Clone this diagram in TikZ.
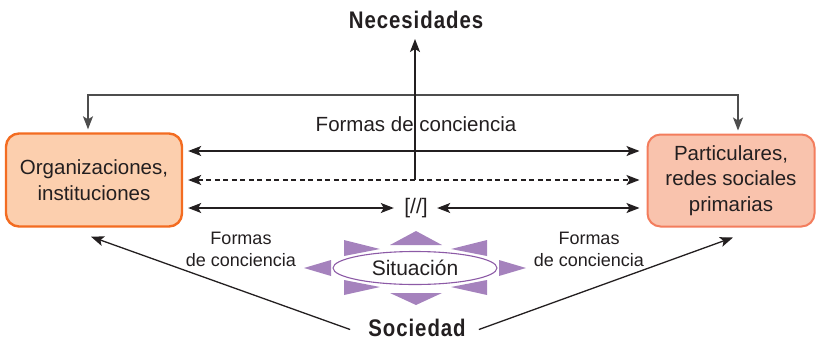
\documentclass[tikz,border=0pt]{standalone}
\usepackage{fontspec}
\setmainfont{Liberation Sans}
\newfontfamily\headfont[FakeStretch=0.85,LetterSpace=4]{Liberation Sans}
\usetikzlibrary{arrows.meta,shapes.geometric}
\definecolor{ink}{HTML}{231F20}
\definecolor{loopgray}{HTML}{4D4D4D}
\definecolor{lfill}{HTML}{FCCFAE}
\definecolor{lborder}{HTML}{F36C21}
\definecolor{rfill}{HTML}{F9C3AD}
\definecolor{rborder}{HTML}{F37D5D}
\definecolor{purp}{HTML}{A582BD}
\definecolor{purpline}{HTML}{8C5AA6}
\begin{document}
\begin{tikzpicture}[x=1pt,y=-1pt,
  >={Stealth[length=13pt,width=10pt,inset=3pt]},
  con/.style={draw=ink,line width=1.3pt},
  loopcon/.style={draw=loopgray,line width=1.3pt},
  boxtext/.style={text=ink,align=center,font=\fontsize{20.5}{26.5}\selectfont},
  lbox/.style={boxtext,rectangle,rounded corners=13pt,minimum width=176pt,minimum height=93pt,fill=lfill,draw=lborder,line width=2.4pt},
  rbox/.style={boxtext,rectangle,rounded corners=13pt,minimum width=167pt,minimum height=92pt,fill=rfill,draw=rborder,line width=2pt,font=\fontsize{20.5}{25.5}\selectfont},
  lab/.style={text=ink,align=center,font=\fontsize{18}{22}\selectfont},
  head/.style={text=ink,inner sep=0pt,font=\headfont\bfseries\fontsize{24}{26}\selectfont},
  ray/.style={fill=purp,draw=none}]
\useasboundingbox (0,0) rectangle (820,341);

% boxes
\node[lbox] (L) at (94,180) {Organizaciones,\\instituciones};
\node[rbox] (R) at (731,180.5) {Particulares,\\redes sociales\\primarias};

% titles
\node[head] (N) at (416,20) {Necesidades};
\node[head] (Soc) at (417,327.5) {Sociedad};

% labels
\node[lab,font=\fontsize{20.5}{24}\selectfont] (FT) at (416,124) {Formas de conciencia};
\node[lab] (FL) at (241,249) {Formas\\de conciencia};
\node[lab] (FR) at (589,249) {Formas\\de conciencia};
\node[text=ink,font=\fontsize{21}{24}\selectfont] (Sl) at (416,208) {[//]};

% top loop
\coordinate (TL) at (88,95);
\coordinate (TR) at (738,95);
\draw[loopcon,<->,shorten <=3pt,shorten >=3pt] (L.north -| TL) -- (TL) -- (TR) -- (R.north -| TR);

% level coordinates
\coordinate (Le) at ([xshift=5pt]L.east);
\coordinate (Rw) at ([xshift=-7pt]R.west);
\coordinate (Y1) at (0,151);
\coordinate (Y2) at (0,180);

\draw[con,<->] (Le |- Y1) -- (Rw |- Y1);
\draw[con,<->,dash pattern=on 5pt off 3.5pt] (Le |- Y2) -- (Rw |- Y2);
\draw[con,<->] (Le |- Sl) -- ([xshift=-7pt]Sl.west);
\draw[con,<->] ([xshift=6pt]Sl.east) -- (Rw |- Sl);

% vertical arrow to Necesidades
\coordinate (V) at (415,180);
\draw[con,->,shorten >=10pt] (V) -- (V |- N.south);

% sunburst
\fill[purp] (390,245) -- (442,245) -- (416,231) -- cycle;
\fill[purp] (390,293) -- (442,293) -- (416,305) -- cycle;
\fill[purp] (331,260) -- (331,276) -- (304,268) -- cycle;
\fill[purp] (499,260) -- (499,276) -- (526,268) -- cycle;
\fill[purp] (344,240) -- (344,256) -- (380,249) -- cycle;
\fill[purp] (487,240) -- (487,256) -- (451,249) -- cycle;
\fill[purp] (344,280) -- (344,295) -- (380,287) -- cycle;
\fill[purp] (487,280) -- (487,295) -- (451,287) -- cycle;
\node[ellipse,draw=purpline,fill=white,line width=1.1pt,minimum width=164pt,minimum height=33pt,inner sep=0pt,text=ink,font=\fontsize{21}{24}\selectfont] (Sit) at (415,268) {Situación};

% diagonals from Sociedad
\draw[con,->] ([xshift=-18pt,yshift=-2pt]Soc.west) -- ([xshift=-3pt,yshift=-9pt]L.south);
\draw[con,->] ([xshift=13pt,yshift=-2pt]Soc.east) -- ([xshift=2pt,yshift=-10pt]R.south);
\end{tikzpicture}
\end{document}
